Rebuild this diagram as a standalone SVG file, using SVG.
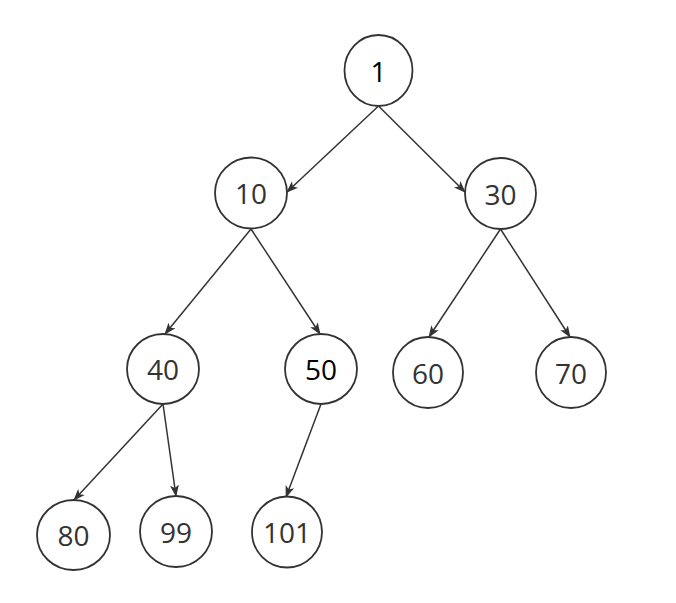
<svg xmlns="http://www.w3.org/2000/svg" width="676" height="603" viewBox="0 0 676 603">
<style>
.n ellipse{fill:#fff;stroke:#333;stroke-width:1.8}
.n text{font-family:"Open Sans","Noto Sans",sans-serif;font-size:28px;fill:#333;text-anchor:middle;dominant-baseline:central}
.n text.k{fill:#000}
#edges line{stroke:#333;stroke-width:1.5;marker-end:url(#ah)}
</style>
<defs>
<marker id="ah" markerWidth="13" markerHeight="10" refX="11" refY="4.5" orient="auto" markerUnits="userSpaceOnUse" viewBox="0 0 13 9">
<path d="M0,0 L12,4.5 L0,9 L3,4.5 Z" fill="#333"/>
</marker>
</defs>
<rect width="676" height="603" fill="#fff"/>
<g id="edges">
<line x1="378.5" y1="106" x2="287" y2="192"/>
<line x1="378.5" y1="106" x2="465" y2="192"/>
<line x1="251" y1="229" x2="165" y2="334"/>
<line x1="251" y1="229" x2="320" y2="334"/>
<line x1="500.5" y1="229" x2="429" y2="337"/>
<line x1="500.5" y1="229" x2="570" y2="337"/>
<line x1="163" y1="404" x2="74" y2="500"/>
<line x1="163" y1="404" x2="176" y2="496"/>
<line x1="321" y1="404" x2="286" y2="497"/>
</g>
<g id="n1" class="n"><ellipse cx="378.5" cy="70.5" rx="34" ry="35.5"/><text class="k" x="378.5" y="70.5">1</text></g>
<g id="n10" class="n"><ellipse cx="251" cy="193" rx="36" ry="35.5"/><text x="251" y="193">10</text></g>
<g id="n30" class="n"><ellipse cx="500.5" cy="193.5" rx="35.5" ry="35.5"/><text x="500.5" y="193.5">30</text></g>
<g id="n40" class="n"><ellipse cx="163" cy="369" rx="36" ry="35"/><text x="163" y="369">40</text></g>
<g id="n50" class="n"><ellipse cx="321" cy="369" rx="36" ry="35"/><text class="k" x="321" y="369">50</text></g>
<g id="n60" class="n"><ellipse cx="428" cy="372.5" rx="35" ry="35.5"/><text x="428" y="372.5">60</text></g>
<g id="n70" class="n"><ellipse cx="571" cy="372.5" rx="35" ry="35.5"/><text x="571" y="372.5">70</text></g>
<g id="n80" class="n"><ellipse cx="73.5" cy="535" rx="36.5" ry="35"/><text x="73.5" y="535">80</text></g>
<g id="n99" class="n"><ellipse cx="176" cy="531.5" rx="36" ry="35.5"/><text x="176" y="531.5">99</text></g>
<g id="n101" class="n"><ellipse cx="287" cy="532" rx="35" ry="35.5"/><text x="287" y="532">101</text></g>
</svg>
